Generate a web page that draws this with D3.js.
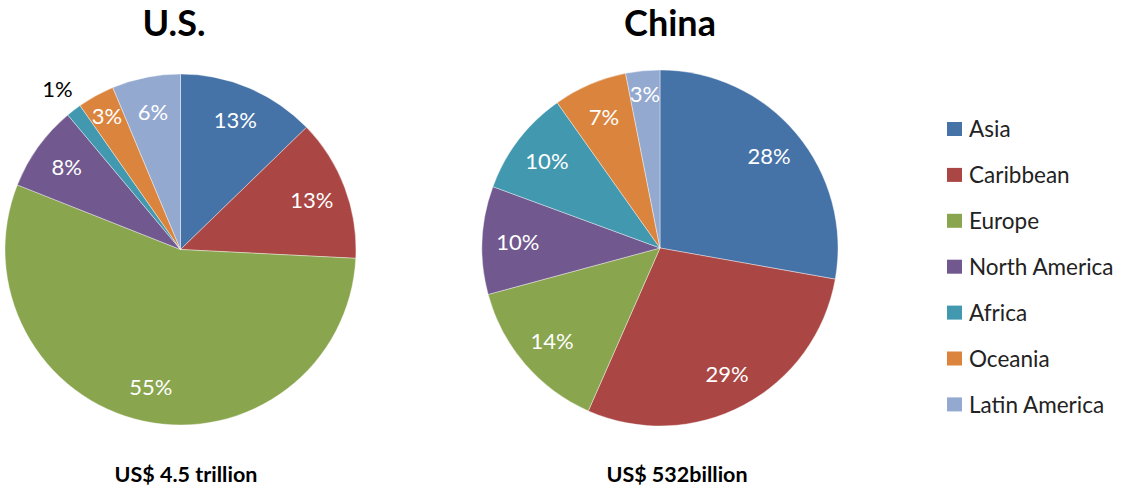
<!DOCTYPE html>
<html>
<head>
<meta charset="utf-8">
<script src="https://cdn.jsdelivr.net/npm/d3@7"></script>
<style>
  body { margin: 0; background: #fff; }
  svg { display: block; font-family: Lato, "Open Sans", sans-serif; }
</style>
</head>
<body>
<svg id="chart" width="1121" height="488"></svg>
<script>
// regions in legend order (also slice order, clockwise from 12 o'clock)
const regions = ["Asia", "Caribbean", "Europe", "North America", "Africa", "Oceania", "Latin America"];
const colors = ["#4572A7", "#AA4643", "#89A54E", "#71588F", "#4198AF", "#DB843D", "#93A9CF"];

// share of exports by destination, %
const usShares = [12.75, 13.05, 55.2, 7.9, 1.4, 3.4, 6.3];
const chinaShares = [27.8, 28.8, 14.2, 9.8, 9.6, 6.7, 3.1];

const titles = ["U.S.", "China"];
const totals = ["US$ 4.5 trillion", "US$ 532billion"];

const svg = d3.select("#chart");

const color = d3.scaleOrdinal().domain(regions).range(colors);

//pie layout, no sorting so slices keep legend order
const pie = d3.pie().sort(null).value(d => d.value);

function drawPie(shares, opts) {
    const data = shares.map((v, i) => ({ region: regions[i], value: v }));
    const total = d3.sum(shares);
    const g = svg.append("g").attr("transform", `translate(${opts.cx},${opts.cy})`);

    const arc = d3.arc().innerRadius(0).outerRadius(opts.r);
    const labelArc = d3.arc().innerRadius(opts.r * 0.8).outerRadius(opts.r * 0.8);
    const narrowArc = d3.arc().innerRadius(opts.r * 0.87).outerRadius(opts.r * 0.87);
    const outerArc = d3.arc().innerRadius(opts.r + 27).outerRadius(opts.r + 27);

    const arcs = pie(data);

    g.selectAll("path")
        .data(arcs)
        .enter().append("path")
        .attr("d", arc)
        .attr("fill", d => color(d.data.region))
        .attr("stroke", "#fff")
        .attr("stroke-width", 0.4);

    //small slices get their label outside in black
    g.selectAll("text.lbl")
        .data(arcs)
        .enter().append("text")
        .attr("class", "lbl")
        .attr("transform", d => {
            const share = d.data.value / total;
            const c = share < 0.02 ? outerArc.centroid(d)
                : share < 0.04 ? narrowArc.centroid(d)
                : labelArc.centroid(d);
            return `translate(${c[0]},${c[1]})`;
        })
        .attr("text-anchor", "middle")
        .attr("dy", "0.36em")
        .attr("font-size", 22)
        .attr("fill", d => d.data.value / total < 0.02 ? "#000" : "#fff")
        .text(d => Math.round(d.data.value / total * 100) + "%");

    svg.append("text")
        .attr("x", opts.titleX)
        .attr("y", 36)
        .attr("text-anchor", "middle")
        .attr("font-size", 36)
        .attr("font-weight", "bold")
        .text(opts.title);

    svg.append("text")
        .attr("x", opts.totalX)
        .attr("y", 482)
        .attr("text-anchor", "middle")
        .attr("font-size", 21.5)
        .attr("font-weight", "bold")
        .text(opts.total);
}

drawPie(usShares, { cx: 180.5, cy: 249.5, r: 175.5, title: titles[0], titleX: 174, total: totals[0], totalX: 186 });
drawPie(chinaShares, { cx: 660, cy: 248, r: 178, title: titles[1], titleX: 670, total: totals[1], totalX: 677 });

//legend on the right
const legend = svg.append("g").attr("transform", "translate(947,129)");
const rowH = 45.9;

const rows = legend.selectAll("g")
    .data(regions)
    .enter().append("g")
    .attr("transform", (d, i) => `translate(0,${i * rowH})`);

rows.append("rect")
    .attr("x", 0)
    .attr("y", -7)
    .attr("width", 15)
    .attr("height", 14)
    .attr("fill", d => color(d));

rows.append("text")
    .attr("x", 22)
    .attr("dy", "0.36em")
    .attr("font-size", 22.5)
    .attr("fill", "#222")
    .text(d => d);
</script>
</body>
</html>
